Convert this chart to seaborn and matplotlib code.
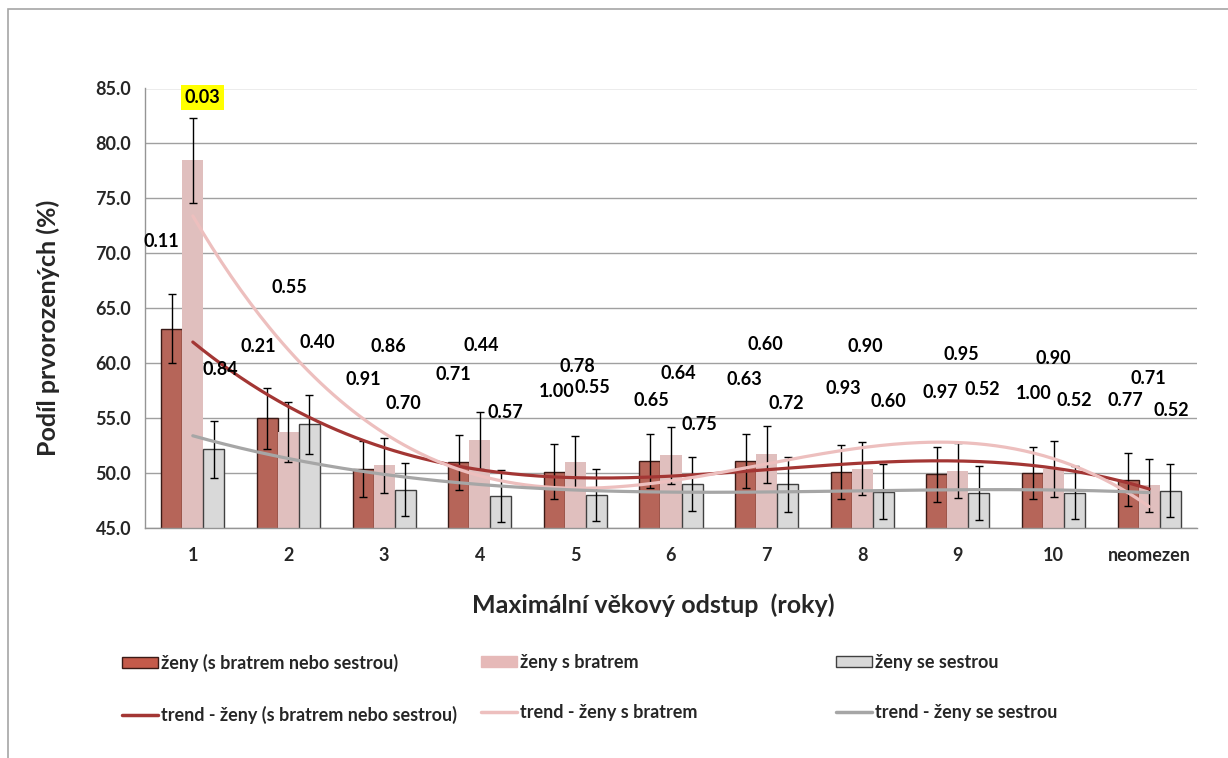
import numpy as np
import pandas as pd
import matplotlib
matplotlib.use("Agg")
import matplotlib.pyplot as plt
from matplotlib.patches import Patch, Rectangle
from matplotlib.lines import Line2D
import seaborn as sns

# Data
categories = ["1", "2", "3", "4", "5", "6", "7", "8", "9", "10", "neomezen"]
series_names = ["ženy (s bratrem nebo sestrou)", "ženy s bratrem", "ženy se sestrou"]

zeny_vse = [63.15, 54.97, 50.4, 51.0, 50.1, 51.1, 51.1, 50.1, 49.9, 50.0, 49.4]
zeny_bratr = [78.45, 53.75, 50.7, 53.0, 51.0, 51.6, 51.7, 50.4, 50.2, 50.4, 48.9]
zeny_sestra = [52.15, 54.45, 48.5, 47.9, 48.0, 49.0, 49.0, 48.3, 48.2, 48.2, 48.4]

err_vse = [3.15, 2.75, 2.55, 2.5, 2.5, 2.5, 2.5, 2.45, 2.5, 2.4, 2.4]
err_bratr = [3.9, 2.7, 2.5, 2.6, 2.4, 2.55, 2.6, 2.4, 2.5, 2.55, 2.4]
err_sestra = [2.6, 2.7, 2.4, 2.35, 2.4, 2.45, 2.5, 2.5, 2.45, 2.4, 2.4]

p_vse = ["0.11", "0.21", "0.91", "0.71", "1.00", "0.65", "0.63", "0.93", "0.97", "1.00", "0.77"]
p_bratr = ["0.03", "0.55", "0.86", "0.44", "0.78", "0.64", "0.60", "0.90", "0.95", "0.90", "0.71"]
p_sestra = ["0.84", "0.40", "0.70", "0.57", "0.55", "0.75", "0.72", "0.60", "0.52", "0.52", "0.52"]

# where the p-value labels sit (category units, 1-based / y in %)
lab_x_vse = [0.67, 1.68, 2.78, 3.72, 4.80, 5.79, 6.77, 7.80, 8.82, 9.79, 10.75]
lab_y_vse = [71.1, 61.5, 58.5, 59.0, 57.4, 56.6, 58.5, 57.7, 57.3, 57.2, 56.6]
lab_x_bratr = [1.10, 2.01, 3.05, 4.02, 5.02, 6.08, 6.99, 8.03, 9.04, 10.0, 10.99]
lab_y_bratr = [84.2, 66.9, 61.5, 61.6, 59.7, 59.1, 61.7, 61.5, 60.8, 60.4, 58.6]
lab_x_sestra = [1.29, 2.30, 3.20, 4.27, 5.18, 6.30, 7.21, 8.27, 9.25, 10.22, 11.23]
lab_y_sestra = [59.4, 61.9, 56.3, 55.5, 57.8, 54.4, 56.3, 56.5, 57.6, 56.6, 55.7]

bar_colors = ["#C55A4A", "#E6B9B8", "#D9D9D9"]
bar_edges = ["#3A1A16", "#E6B9B8", "#404040"]
trend_colors = ["#A33634", "#EDBFBE", "#A6A6A6"]

FONT = "Lato"

df = pd.DataFrame({
    "kategorie": categories * 3,
    "skupina": np.repeat(series_names, len(categories)),
    "podil": zeny_vse + zeny_bratr + zeny_sestra,
})

sns.set_style("white")
plt.rcParams["font.family"] = [FONT, "DejaVu Sans"]
plt.rcParams["font.weight"] = "bold"

fig = plt.figure(figsize=(12.28, 7.58), dpi=100)
ax = fig.add_axes([145 / 1228, 1 - 528 / 758, (1197 - 145) / 1228, (528 - 88.5) / 758])

sns.barplot(data=df, x="kategorie", y="podil", hue="skupina", order=categories,
            hue_order=series_names, palette=bar_colors, width=0.66,
            errorbar=None, legend=False, ax=ax, zorder=2)

errs = [err_vse, err_bratr, err_sestra]
for cont, edge, err in zip(ax.containers, bar_edges, errs):
    xs, hs = [], []
    for bar in cont:
        bar.set_edgecolor(edge)
        bar.set_linewidth(1.0 if edge != bar_colors[1] else 0)
        xs.append(bar.get_x() + bar.get_width() / 2)
        hs.append(bar.get_height())
    ax.errorbar(xs, hs, yerr=err, fmt="none", ecolor="black", elinewidth=1,
                capsize=3, capthick=1, zorder=3)

# polynomial (order 3) trend lines fitted to the bar values, as the Excel chart does
xi = np.arange(len(categories))
xx = np.linspace(0, len(categories) - 1, 300)
for vals, col in zip([zeny_vse, zeny_bratr, zeny_sestra], trend_colors):
    coef = np.polyfit(xi, vals, 3)
    sns.lineplot(x=xx, y=np.polyval(coef, xx), color=col, linewidth=2.3, ax=ax, zorder=4)

# p-value labels
for labels, lx, ly in [(p_vse, lab_x_vse, lab_y_vse),
                       (p_bratr, lab_x_bratr, lab_y_bratr),
                       (p_sestra, lab_x_sestra, lab_y_sestra)]:
    for t, x, y in zip(labels, lx, ly):
        kw = {}
        if float(t) < 0.05:
            kw["bbox"] = dict(boxstyle="square,pad=0.22", facecolor="#FFFF00", edgecolor="none")
        ax.text(x - 1, y, t, ha="center", va="center", fontsize=13, fontweight="bold",
                color="black", zorder=6, **kw)

ax.set_ylim(45, 85)
ax.set_xlim(-0.5, len(categories) - 0.5)
ax.set_yticks(np.arange(45, 86, 5))
ax.set_yticklabels([f"{v:.1f}" for v in np.arange(45, 86, 5)])
ax.yaxis.grid(True, color="#A0A0A0", linewidth=1)
ax.xaxis.grid(False)
ax.set_axisbelow(True)
for s in ["top", "right"]:
    ax.spines[s].set_visible(False)
for s in ["left", "bottom"]:
    ax.spines[s].set_color("#959595")
    ax.spines[s].set_linewidth(1)
ax.tick_params(axis="y", length=6, width=1, color="#959595", labelsize=13, pad=4)
ax.tick_params(axis="x", length=0, labelsize=13, pad=14)
for lab in ax.get_xticklabels() + ax.get_yticklabels():
    lab.set_fontweight("bold")

ax.set_xlabel("Maximální věkový odstup  (roky)", fontsize=18, fontweight="bold")
ax.set_ylabel("Podíl prvorozených (%)", fontsize=18, fontweight="bold")
ax.xaxis.set_label_coords(0.4834, -0.175)
ax.xaxis.label.set_va("center")
ax.yaxis.set_label_coords(-0.0917, 0.455)
ax.yaxis.label.set_va("center")

# legend: three columns at fixed places
col_left = [122, 481, 836]
for i in range(3):
    handles = [Patch(facecolor=bar_colors[i], edgecolor=bar_edges[i], linewidth=1),
               Line2D([0], [0], color=trend_colors[i], linewidth=2.5)]
    labels = [series_names[i], "trend - " + series_names[i]]
    fig.legend(handles, labels, loc="upper left",
               bbox_to_anchor=(col_left[i] / 1228, 1 - 654 / 758),
               frameon=False, borderpad=0, borderaxespad=0, handlelength=2.0,
               handleheight=0.6, handletextpad=0.15, labelspacing=1.85,
               prop={"family": FONT, "weight": "bold", "size": 13})

# chart area frame: only its left and top edges fall inside the picture
fig.patches.append(Rectangle((8 / 1228, -0.02), 1.0, 1.02 - 9.5 / 758,
                             transform=fig.transFigure, fill=False,
                             edgecolor="#A6A6A6", linewidth=1.2))

fig.savefig("out.png", dpi=100)
